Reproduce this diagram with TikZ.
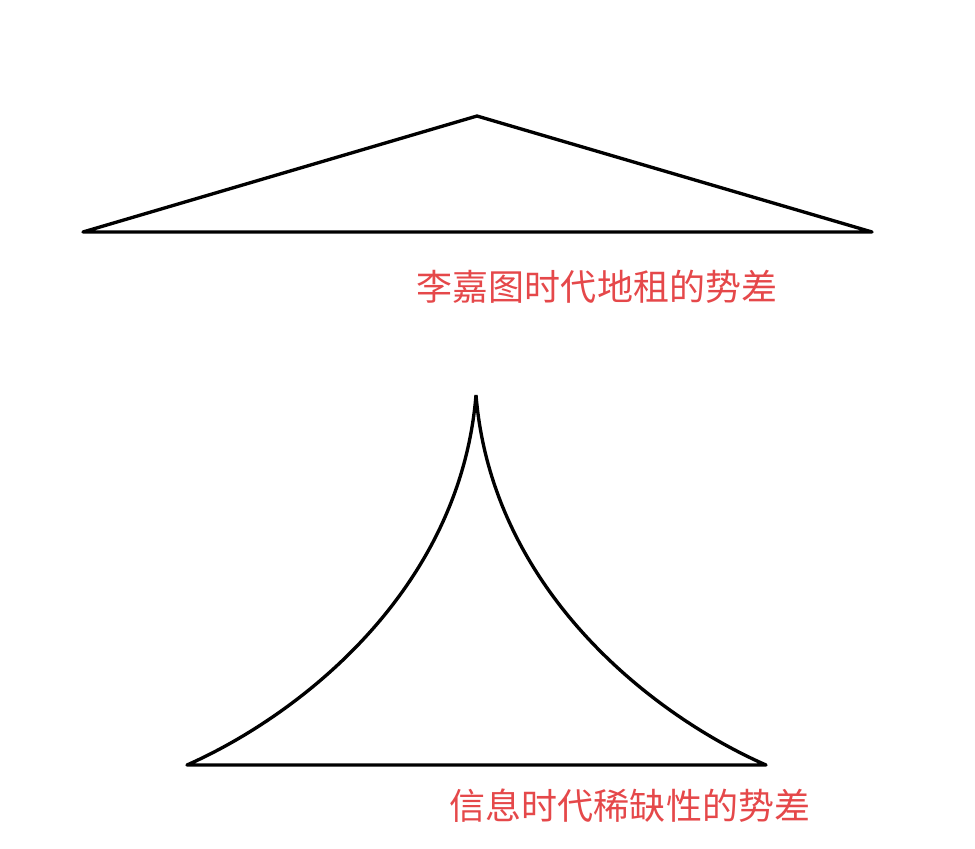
\documentclass[tikz,border=0pt]{standalone}
\usepackage{fontspec}
\newfontfamily\cjk{Noto Sans CJK SC}
\usetikzlibrary{positioning}
\definecolor{cred}{HTML}{E5484A}
\tikzset{
  every picture/.style={line width=1.9pt, line join=round},
  outline/.style={draw=black},
  caption/.style={font=\cjk\fontsize{20.5}{24}\selectfont, text=cred, inner sep=0pt},
}
\begin{document}
\begin{tikzpicture}[x=0.02cm, y=-0.02cm]
  \useasboundingbox (0,0) rectangle (975,849);
  % flat triangle
  \draw[outline] (83,232) -- (477,116) -- (872,232) -- cycle;
  \node[caption] (ricardo) at (597,287) {李嘉图时代地租的势差};
  % peaked cusp
  \draw[outline] (476,395) .. controls (460,590) and (300,715) .. (187,765)
    -- (766,765) .. controls (652,715) and (492,590) .. (476,395);
  \node[caption] (info) at (630,806) {信息时代稀缺性的势差};
\end{tikzpicture}
\end{document}
